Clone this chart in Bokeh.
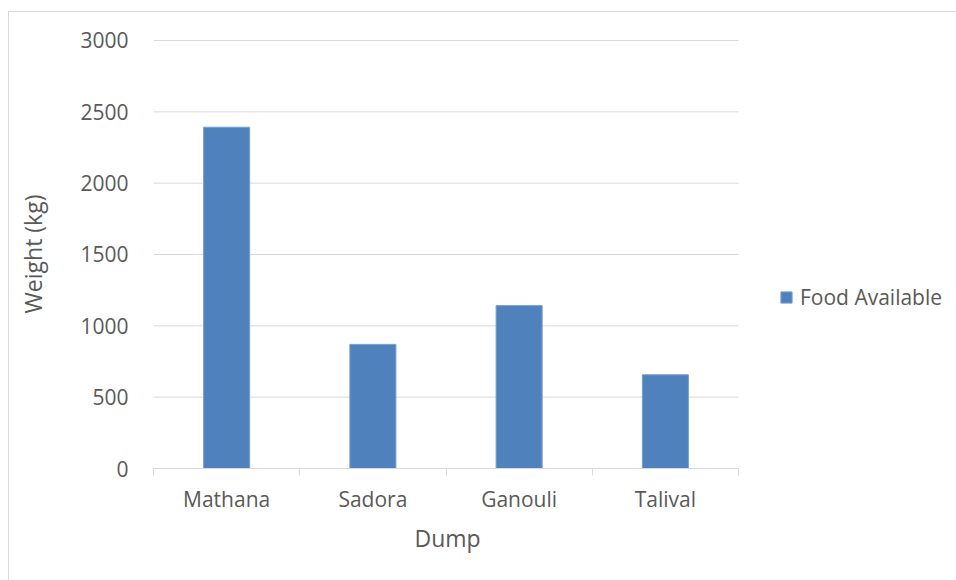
import numpy as np
from bokeh.plotting import figure
from bokeh.models import (Range1d, FixedTicker, Legend, LegendItem, ColumnDataSource, Title)
from bokeh.embed import file_html
from bokeh.resources import INLINE

categories = ["Mathana", "Sadora", "Ganouli", "Talival"]
food_available = [2392, 870, 1142, 657]
y_ticks = [0, 500, 1000, 1500, 2000, 2500, 3000]
series_name = "Food Available"
x_title = "Dump"
y_title = "Weight (kg)"

FONT = "Open Sans"
TXT = "#595959"
GRID = "#d9d9d9"
BAR = "#4f81bd"

n = len(categories)
centers = [i + 0.5 for i in range(n)]
bounds = list(range(n + 1))

# frame spans to the right edge so the legend is not clipped;
# the category area occupies 585 of the 803 frame pixels
x_end = n * 803 / 585
# a little headroom so the top gridline is not clipped by the frame
y_end = y_ticks[-1] * 1.0023

src = ColumnDataSource(dict(x=centers, top=food_available, cat=categories))
grid_src = ColumnDataSource(dict(x0=[0] * len(y_ticks), x1=[n] * len(y_ticks), y=y_ticks))

p = figure(width=956, height=580, output_backend="svg", toolbar_location=None,
           x_range=Range1d(0, x_end), y_range=Range1d(0, y_end),
           min_border_left=153, min_border_right=0, min_border_top=39,
           min_border_bottom=112)
p.outline_line_color = None
p.background_fill_color = "white"
p.border_fill_color = "white"
p.xgrid.grid_line_color = None
p.ygrid.grid_line_color = None

# horizontal gridlines limited to the category area
p.segment(x0="x0", x1="x1", y0="y", y1="y", source=grid_src,
          line_color=GRID, line_width=1)

r = p.vbar(x="x", top="top", width=0.315, bottom=0, source=src,
           fill_color=BAR, line_color="#7a9fd0", line_width=1)

# y axis
ya = p.yaxis[0]
ya.ticker = FixedTicker(ticks=y_ticks)
ya.axis_line_color = None
ya.major_tick_line_color = None
ya.minor_tick_line_color = None
ya.major_tick_out = 0
ya.major_tick_in = 0
ya.major_label_standoff = 25
ya.major_label_text_font = FONT
ya.major_label_text_font_size = "21px"
ya.major_label_text_color = TXT
ya.axis_label = y_title
ya.axis_label_text_font = FONT
ya.axis_label_text_font_size = "23px"
ya.axis_label_text_font_style = "normal"
ya.axis_label_text_color = TXT
ya.axis_label_standoff = 28

# x axis
xa = p.xaxis[0]
xa.ticker = FixedTicker(ticks=centers, minor_ticks=bounds)
xa.bounds = (0, n)
xa.major_label_overrides = {c: lab for c, lab in zip(centers, categories)}
xa.axis_line_color = GRID
xa.axis_line_width = 1
xa.major_tick_line_color = None
xa.major_tick_out = 0
xa.major_tick_in = 0
xa.minor_tick_line_color = GRID
xa.minor_tick_out = 7
xa.minor_tick_in = 0
xa.major_label_standoff = 9
xa.major_label_text_font = FONT
xa.major_label_text_font_size = "21px"
xa.major_label_text_color = TXT

# x axis title, centred under the category area
xt = Title(text=x_title, align="left", offset=261, standoff=8,
           text_font=FONT, text_font_size="23px", text_font_style="normal",
           text_color=TXT)
p.add_layout(xt, "below")

legend = Legend(items=[LegendItem(label=series_name, renderers=[r])],
                location=(626, 157), padding=0, margin=0, spacing=0,
                border_line_color=None, background_fill_alpha=0,
                glyph_width=14, glyph_height=14, label_standoff=7,
                label_text_font=FONT, label_text_font_size="21px",
                label_text_color=TXT)
p.add_layout(legend, "center")

p.stylesheets = [
    ":host::after { content: ''; position: absolute; left: 8px; top: 11px;"
    " width: 960px; height: 580px; border: 1.5px solid #d9d9d9;"
    " pointer-events: none; box-sizing: border-box; }"
]

open("out.html", "w").write(file_html(p, INLINE))
